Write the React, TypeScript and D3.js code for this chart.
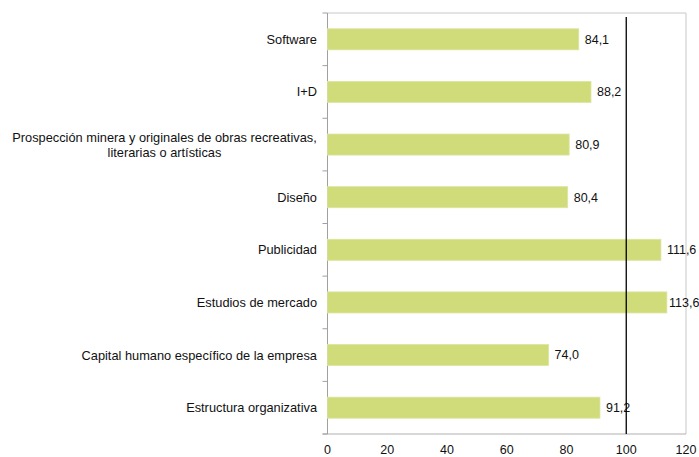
import React from "react";
import * as d3 from "d3";

const categories: string[][] = [
  ["Software"],
  ["I+D"],
  ["Prospección minera y originales de obras recreativas,", "literarias o artísticas"],
  ["Diseño"],
  ["Publicidad"],
  ["Estudios de mercado"],
  ["Capital humano específico de la empresa"],
  ["Estructura organizativa"],
];
const values: number[] = [84.1, 88.2, 80.9, 80.4, 111.6, 113.6, 74.0, 91.2];
const xTicks: number[] = [0, 20, 40, 60, 80, 100, 120];
const refValue = 100;

const W = 699;
const H = 457;
const left = 327.5;
const right = 686;
const top = 13;
const bottom = 434;
const font = "'Liberation Sans', Arial, sans-serif";

export default function App() {
  const x = d3.scaleLinear().domain([0, 120]).range([left, right]);
  const ids = categories.map((_, i) => String(i));
  const y = d3.scaleBand().domain(ids).range([top, bottom]).paddingInner(0.6).paddingOuter(0.3);
  const bandBounds = d3.range(categories.length + 1).map((i) => top + i * (bottom - top) / categories.length);
  const fmt = (v: number) => v.toFixed(1).replace(".", ",");
  const valueFs = 12.5;
  const labelW = 29;
  return (
    <svg width={W} height={H} style={{ position: "absolute", left: 0, top: 0 }} fontFamily={font}>
      <rect width={W} height={H} fill="#fff" />
      <line x1={left} x2={right} y1={top} y2={top} stroke="#c8c8c8" />
      <line x1={right} x2={right} y1={top} y2={bottom} stroke="#c8c8c8" />
      <line x1={left - 5} x2={right} y1={bottom} y2={bottom} stroke="#b0b0b0" />
      <line x1={left} x2={left} y1={top} y2={bottom} stroke="#a0a0a0" />
      {bandBounds.map((b, i) => (
        <line key={i} x1={left - 5} x2={left} y1={b} y2={b} stroke="#a0a0a0" />
      ))}
      {values.map((v, i) => {
        const yy = y(String(i))!;
        const lx = Math.min(x(v) + 6, W - 1 - labelW);
        return (
          <g key={i}>
            <rect x={x(0)} y={yy} width={x(v) - x(0)} height={y.bandwidth()} fill="#d0db7a" stroke="#dde5a0" strokeWidth={0.8} />
            <text x={lx} y={yy + y.bandwidth() / 2} dy="0.35em" fontSize={valueFs} fill="#111">
              {fmt(v)}
            </text>
          </g>
        );
      })}
      <line x1={x(refValue)} x2={x(refValue)} y1={17} y2={bottom} stroke="#000" strokeWidth={1.3} />
      {categories.map((lines, i) => {
        const cy = y(String(i))! + y.bandwidth() / 2;
        if (lines.length === 1) {
          return (
            <text key={i} x={317} y={cy} dy="0.35em" textAnchor="end" fontSize={12.8} fill="#111">
              {lines[0]}
            </text>
          );
        }
        return (
          <text key={i} textAnchor="middle" fontSize={12.8} fill="#111">
            {lines.map((l, j) => (
              <tspan key={j} x={164.5} y={cy + (j - (lines.length - 1) / 2) * 15} dy="0.35em">
                {l}
              </tspan>
            ))}
          </text>
        );
      })}
      {xTicks.map((t) => (
        <text key={t} x={x(t)} y={450} dy="0.35em" textAnchor="middle" fontSize={12.5} fill="#111">
          {t}
        </text>
      ))}
    </svg>
  );
}
